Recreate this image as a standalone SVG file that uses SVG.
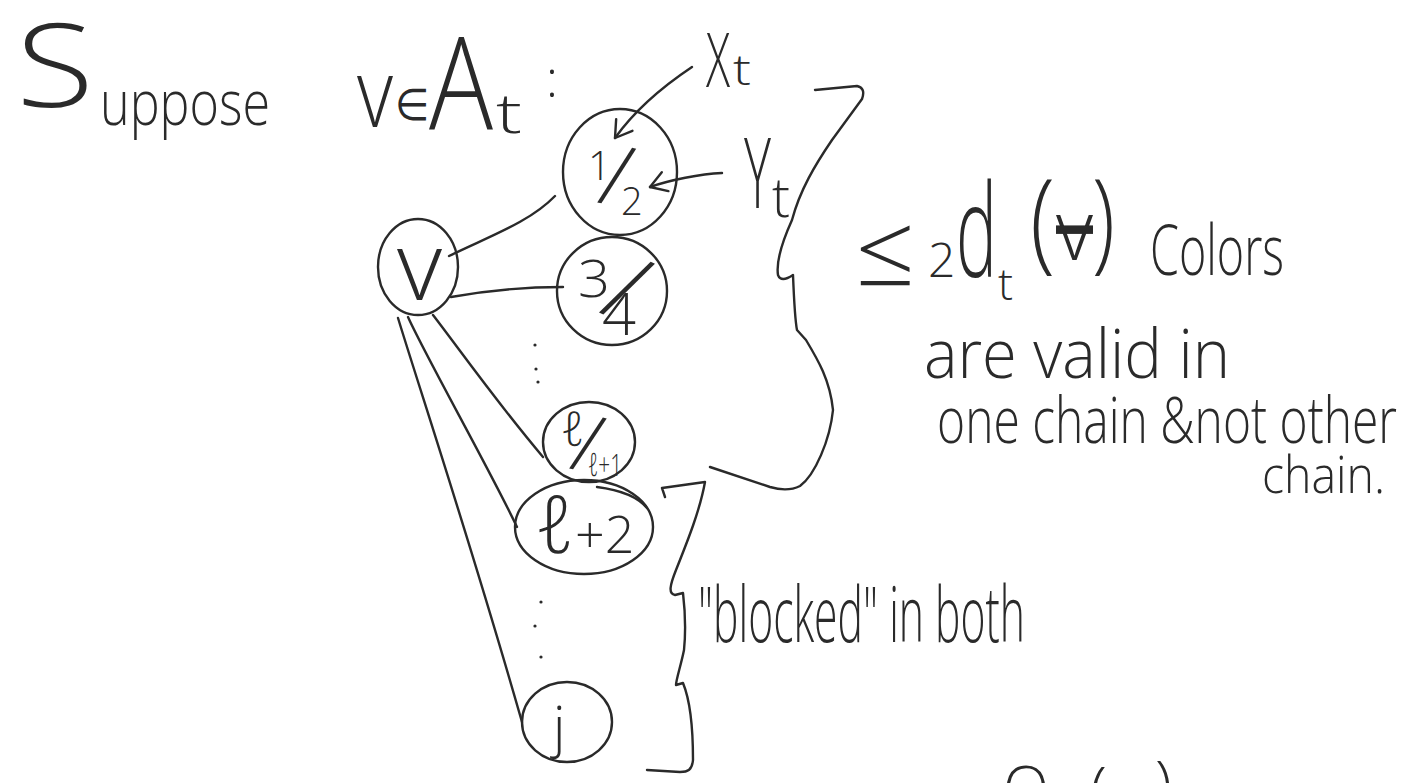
<svg xmlns="http://www.w3.org/2000/svg" width="1411" height="783" viewBox="0 0 1411 783">
<style>
.ln{fill:none;stroke:#2a2a2a;stroke-width:2.4;stroke-linecap:round;stroke-linejoin:round}
.nd{fill:none;stroke:#2a2a2a;stroke-width:2.4}
.t{font-family:"Open Sans","Liberation Sans","DejaVu Sans",sans-serif;font-weight:300;fill:#2a2a2a}
.sl{font-family:"Open Sans","Liberation Sans","DejaVu Sans",sans-serif;font-weight:300;fill:#2a2a2a;text-anchor:middle}
.dot{fill:#2a2a2a}
</style>
<defs>
<marker id="head" viewBox="0 0 24 24" refX="22" refY="12" markerWidth="24" markerHeight="24" markerUnits="userSpaceOnUse" orient="auto">
<path d="M6,2 L22,12 L6,22" fill="none" stroke="#2a2a2a" stroke-width="2.4" stroke-linecap="round" stroke-linejoin="round"/>
</marker>
</defs>
<rect width="1411" height="783" fill="#ffffff"/>

<g id="title">
<text class="t" x="16" y="107" font-size="117" textLength="78" lengthAdjust="spacingAndGlyphs">S</text>
<text class="t" x="100" y="125" font-size="62" textLength="170" lengthAdjust="spacingAndGlyphs">uppose</text>
<text class="t" x="357" y="127" font-size="95" textLength="36" lengthAdjust="spacingAndGlyphs">v</text>
<text class="t" x="395" y="120" font-size="44" textLength="34" lengthAdjust="spacingAndGlyphs">∈</text>
<text class="t" x="429" y="130" font-size="130" textLength="64" lengthAdjust="spacingAndGlyphs">A</text>
<text class="t" x="496" y="133" font-size="55" textLength="26" lengthAdjust="spacingAndGlyphs">t</text>
<text class="t" x="546" y="97" font-size="50">:</text>
</g>

<g id="connectors">
<path class="ln" d="M449,256 C490,236 530,222 555,196"/>
<path class="ln" d="M451,297 C490,290 530,287 563,287"/>
<path class="ln" d="M433,315 C460,350 495,400 543,457"/>
<path class="ln" d="M408,317 C425,355 490,470 517,527"/>
<path class="ln" d="M398,318 C420,390 470,540 522,722"/>
<path class="ln" d="M692,67 C665,85 635,110 615,138" marker-end="url(#head)"/>
<path class="ln" d="M722,173 C700,174 670,180 650,187" marker-end="url(#head)"/>
</g>

<g id="node-v">
<ellipse class="nd" cx="418" cy="267" rx="40" ry="48"/>
<text class="t" x="397" y="300" font-size="95" textLength="45" lengthAdjust="spacingAndGlyphs">v</text>
</g>

<g id="node-1-2">
<ellipse class="nd" cx="620" cy="172" rx="57" ry="63"/>
<text class="t" x="588" y="180" font-size="40">1</text>
<text class="sl" x="617" y="206" font-size="85" transform="rotate(12 617 175)">/</text>
<text class="t" x="621" y="215" font-size="38">2</text>
</g>

<g id="node-3-4">
<ellipse class="nd" cx="612" cy="291" rx="55" ry="54"/>
<text class="t" x="578" y="297" font-size="52" textLength="32" lengthAdjust="spacingAndGlyphs">3</text>
<text class="sl" x="627" y="322" font-size="95" transform="rotate(25 627 288)">/</text>
<text class="t" x="602" y="335" font-size="58" textLength="34" lengthAdjust="spacingAndGlyphs">4</text>
</g>

<g id="dots-1">
<circle class="dot" cx="535" cy="345" r="1.6"/>
<circle class="dot" cx="536" cy="369" r="1.6"/>
<circle class="dot" cx="538" cy="382" r="1.6"/>
</g>

<g id="node-l-l1">
<ellipse class="nd" cx="589" cy="442" rx="46" ry="40"/>
<text class="t" x="561" y="446" font-size="48">ℓ</text>
<text class="sl" x="588" y="472" font-size="80" transform="rotate(13 588 443)">/</text>
<text class="t" x="588" y="476" font-size="32" textLength="34" lengthAdjust="spacingAndGlyphs">ℓ+1</text>
</g>

<g id="node-l2">
<ellipse class="nd" cx="584" cy="527" rx="69" ry="47"/>
<path class="ln" d="M597,487 C620,490 638,497 647,508"/>
<text class="t" x="535" y="553"><tspan font-size="80">ℓ</tspan><tspan font-size="52">+2</tspan></text>
</g>

<g id="dots-2">
<circle class="dot" cx="541" cy="602" r="1.6"/>
<circle class="dot" cx="535" cy="626" r="1.6"/>
<circle class="dot" cx="541" cy="657" r="1.6"/>
</g>

<g id="node-j">
<ellipse class="nd" cx="567" cy="722" rx="45" ry="40"/>
<text class="t" x="553" y="746" font-size="55">j</text>
</g>

<g id="label-xt">
<text class="t" x="706" y="87" font-size="75" textLength="24" lengthAdjust="spacingAndGlyphs">X</text>
<text class="t" x="733" y="85" font-size="42" textLength="18" lengthAdjust="spacingAndGlyphs">t</text>
</g>
<g id="label-yt">
<text class="t" x="744" y="208" font-size="98" textLength="27" lengthAdjust="spacingAndGlyphs">Y</text>
<text class="t" x="772" y="217" font-size="55" textLength="18" lengthAdjust="spacingAndGlyphs">t</text>
</g>

<g id="brace-top">
<path class="ln" d="M815,90 L857,86 Q866,88 862,99 L832,140 C815,165 800,190 792,220 C783,240 776,262 778,275 Q781,283 793,275 C794,300 795,320 797,330 L806,340 C818,360 830,380 833,410 C830,440 815,475 800,486 C790,491 780,490 770,487 L710,467"/>
</g>

<g id="brace-bottom">
<path class="ln" d="M665,497 L662,488 L705,482 C700,510 688,540 676,570 C670,585 668,594 675,595 L683,593 C685,610 686,630 684,650 C681,665 676,680 676,685 L683,683 C690,700 693,730 693,760 C692,770 688,772 680,772 L647,770"/>
</g>

<g id="label-colors">
<text class="t" x="855" y="285" font-size="100" textLength="60" lengthAdjust="spacingAndGlyphs">≤</text>
<text class="t" x="928" y="277" font-size="48">2</text>
<text class="t" x="956" y="277" font-size="130" textLength="41" lengthAdjust="spacingAndGlyphs">d</text>
<text class="t" x="998" y="300" font-size="45">t</text>
<text class="t" x="1030" y="258" font-size="110" textLength="25" lengthAdjust="spacingAndGlyphs">(</text>
<text class="t" x="1056" y="260" font-size="85" textLength="37" lengthAdjust="spacingAndGlyphs" text-decoration="line-through">v</text>
<text class="t" x="1092" y="258" font-size="110" textLength="23" lengthAdjust="spacingAndGlyphs">)</text>
<text class="t" x="1150" y="275" font-size="70" textLength="134" lengthAdjust="spacingAndGlyphs">Colors</text>
<text class="t" x="924" y="378" font-size="68" textLength="306" lengthAdjust="spacingAndGlyphs">are valid in</text>
<text class="t" x="937" y="443" font-size="64" textLength="460" lengthAdjust="spacingAndGlyphs">one chain &amp;not other</text>
<text class="t" x="1262" y="493" font-size="52" textLength="123" lengthAdjust="spacingAndGlyphs">chain.</text>
</g>

<g id="label-blocked">
<text class="t" x="698" y="642" font-size="78" textLength="327" lengthAdjust="spacingAndGlyphs">"blocked" in both</text>
</g>

<g id="label-bottom">
<text class="t" x="1003" y="810" font-size="60">O</text>
<text class="t" x="1090" y="812" font-size="62">(</text>
<text class="t" x="1155" y="806" font-size="62">)</text>
</g>
</svg>
